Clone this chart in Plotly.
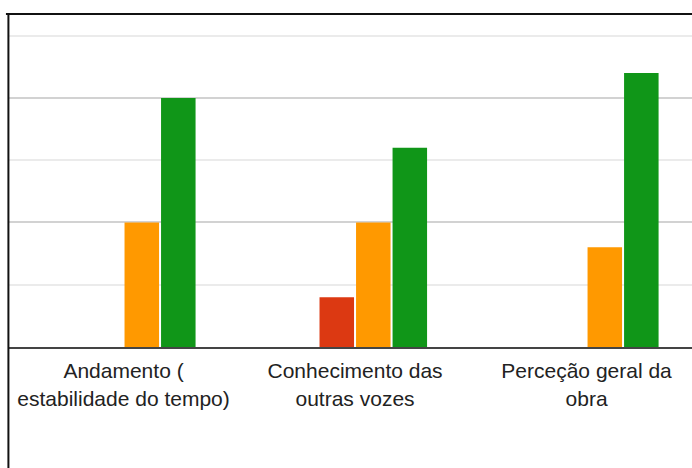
import plotly.graph_objects as go

categories = ["Andamento (<br>estabilidade do tempo)",
              "Conhecimento das<br>outras vozes",
              "Perceção geral da<br>obra"]
series_names = ["1", "2", "3", "4"]
series_values = [
    [0, 0, 0],
    [0, 2, 0],
    [5, 5, 4],
    [10, 8, 11],
]
series_colors = ["#3366cc", "#dc3912", "#ff9900", "#109618"]

fig = go.Figure()
for name, vals, col in zip(series_names, series_values, series_colors):
    fig.add_trace(go.Bar(x=categories, y=vals, name=name,
                         marker=dict(color=col, line=dict(width=0))))

fig.update_layout(
    width=692, height=468,
    margin=dict(l=8, r=0, t=14, b=120.5),
    paper_bgcolor="white", plot_bgcolor="white",
    barmode="group", bargap=0.369, bargroupgap=0.055,
    showlegend=False,
    font=dict(family="Arial, Liberation Sans, sans-serif", size=21, color="#222222"),
    xaxis=dict(range=[-0.499, 2.4555], showgrid=False, zeroline=False,
               showline=True, linecolor="#444444", linewidth=2,
               ticks="", tickfont=dict(size=21, color="#222222"),
               ticklabelstandoff=4),
    yaxis=dict(range=[0, 13.37], showticklabels=False, ticks="",
               zeroline=False, showline=False,
               tickmode="array", tickvals=[5, 10],
               showgrid=True, gridcolor="#d2d2d2", gridwidth=2,
               minor=dict(tickmode="array", tickvals=[2.5, 7.5, 12.5],
                          showgrid=True, gridcolor="#ebebeb", gridwidth=1.5)),
    shapes=[
        dict(type="line", xref="paper", yref="paper", x0=0.0006, x1=0.0006,
             y0=1.003, y1=-0.5, line=dict(color="#111111", width=2)),
        dict(type="line", xref="paper", yref="paper", x0=-0.003, x1=1.01,
             y0=1.0, y1=1.0, line=dict(color="#111111", width=2)),
    ],
)

fig.write_html("out.html",
               config={"displayModeBar": False},
               post_script="document.body.style.margin='0';document.body.style.overflow='hidden';")
